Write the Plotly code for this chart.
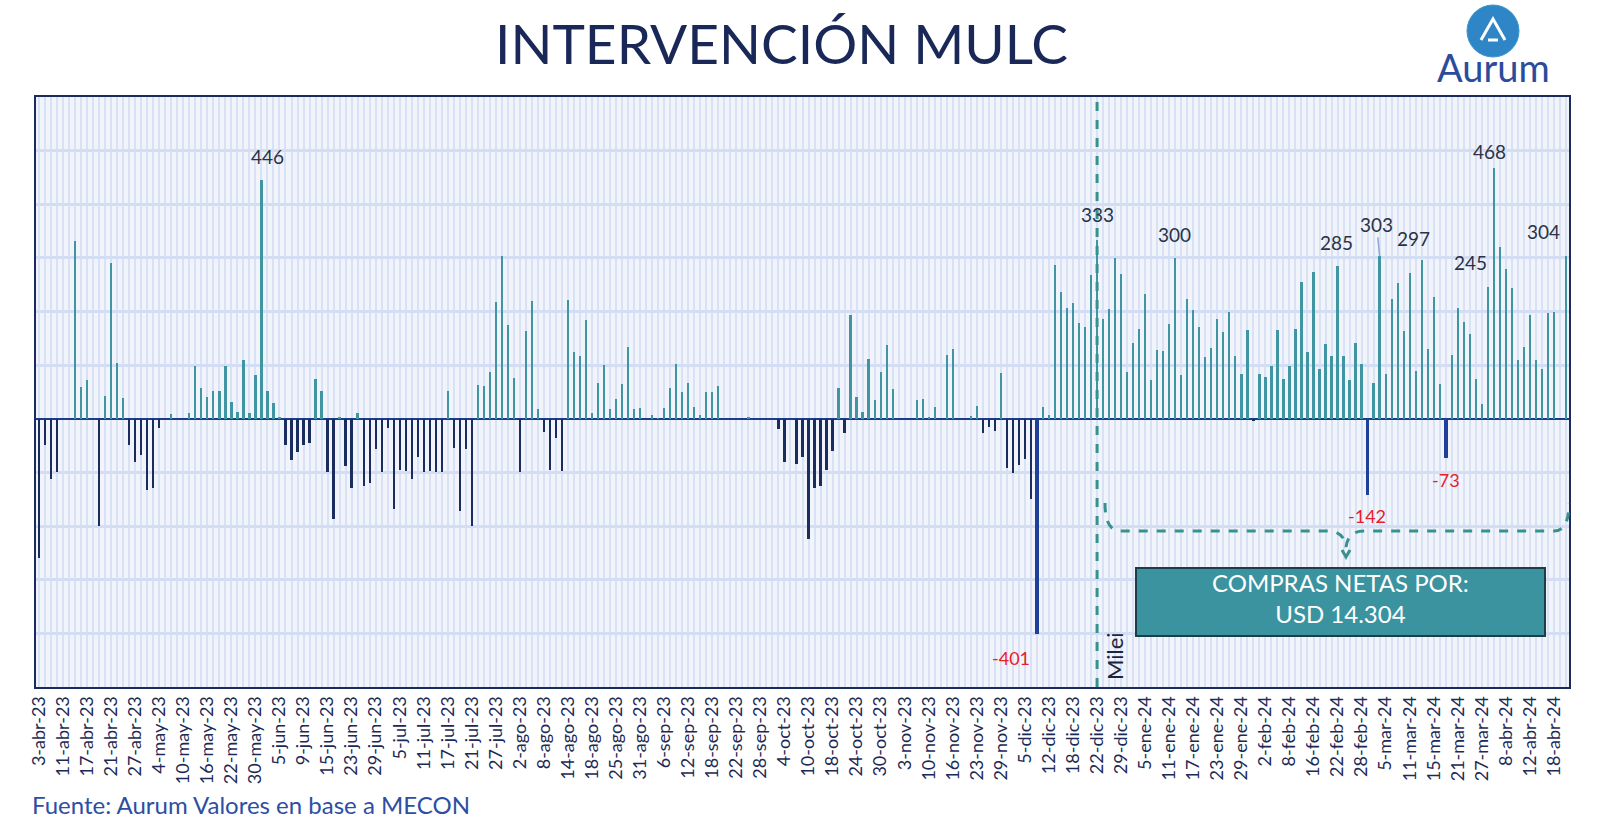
import pandas as pd
import plotly.graph_objects as go

# ---------------- data ----------------
HOLIDAYS = ["2023-04-06", "2023-04-07", "2023-05-01", "2023-05-25", "2023-05-26",
            "2023-06-19", "2023-06-20", "2023-08-21", "2023-10-12", "2023-10-13",
            "2023-11-09", "2023-11-20", "2023-12-08", "2023-12-25", "2024-01-01",
            "2024-02-12", "2024-02-13", "2024-03-28", "2024-03-29", "2024-04-01",
            "2024-04-02"]

VALUES = [
    -260, -49, -113, -99, 0, 0, 332, 59, 73, 0,
    -200, 43, 290, 105, 39, -49, -81, -67, -133, -129,
    -18, 0, 9, 0, 0, 11, 99, 58, 41, 51,
    51, 99, 31, 12, 110, 11, 82, 446, 52, 29,
    4, -49, -77, -62, -49, -46, 74, 51, -99, -186,
    4, -88, -129, 11, -125, -120, -57, -99, -17, -168,
    -96, -97, -112, -72, -99, -97, -99, -99, 52, -55,
    -171, -57, -200, 63, 62, 87, 217, 303, 175, 76,
    -100, 164, 219, 19, -24, -95, -35, -98, 221, 125,
    117, 184, 11, 66, 100, 19, 37, 64, 133, 19,
    21, 0, 7, 1, 21, 57, 103, 50, 67, 22,
    8, 50, 50, 61, 0, 0, 0, 0, 3, 0,
    0, 0, 0, -19, -80, 0, -84, -71, -224, -129,
    -126, -96, -60, 57, -27, 193, 40, 12, 111, 35,
    88, 137, 56, 0, 0, 0, 35, 37, 4, 22,
    0, 119, 130, 0, 0, 6, 24, -27, -16, -22,
    86, -91, -101, -86, -75, -150, -401, 22, 8, 287,
    236, 206, 216, 179, 171, 268, 333, 186, 204, 299,
    270, 88, 142, 168, 232, 73, 128, 126, 176, 300,
    81, 223, 202, 172, 115, 132, 187, 162, 199, 117,
    84, 166, -4, 84, 78, 98, 166, 75, 98, 168,
    256, 125, 274, 92, 140, 118, 285, 118, 72, 141,
    103, -142, 66, 303, 83, 224, 253, 164, 272, 89,
    297, 131, 228, 65, -73, 119, 206, 180, 158, 75,
    27, 245, 468, 321, 280, 243, 109, 133, 193, 110,
    92, 197, 199, 0, 304,
]

TICK_LABELS = [
    "3-abr-23", "11-abr-23", "17-abr-23", "21-abr-23", "27-abr-23", "4-may-23",
    "10-may-23", "16-may-23", "22-may-23", "30-may-23", "5-jun-23", "9-jun-23",
    "15-jun-23", "23-jun-23", "29-jun-23", "5-jul-23", "11-jul-23", "17-jul-23",
    "21-jul-23", "27-jul-23", "2-ago-23", "8-ago-23", "14-ago-23", "18-ago-23",
    "25-ago-23", "31-ago-23", "6-sep-23", "12-sep-23", "18-sep-23", "22-sep-23",
    "28-sep-23", "4-oct-23", "10-oct-23", "18-oct-23", "24-oct-23", "30-oct-23",
    "3-nov-23", "10-nov-23", "16-nov-23", "23-nov-23", "29-nov-23", "5-dic-23",
    "12-dic-23", "18-dic-23", "22-dic-23", "29-dic-23", "5-ene-24", "11-ene-24",
    "17-ene-24", "23-ene-24", "29-ene-24", "2-feb-24", "8-feb-24", "16-feb-24",
    "22-feb-24", "28-feb-24", "5-mar-24", "11-mar-24", "15-mar-24", "21-mar-24",
    "27-mar-24", "8-abr-24", "12-abr-24", "18-abr-24",
]

MILEI_DATE = "2023-12-22"
# labelled bars (by position in the series)
LABEL_IDX = [37, 176, 189, 216, 223, 230, 241, 242, 254, 166, 221, 234]
HIGHLIGHT_IDX = [166, 221, 234]
BOX_TEXT = "COMPRAS NETAS POR:<br>USD 14.304"

DATES = [d.strftime("%Y-%m-%d") for d in pd.bdate_range("2023-04-03", "2024-04-30")
         if d.strftime("%Y-%m-%d") not in HOLIDAYS][:len(VALUES)]

# ---------------- style ----------------
FONT = "Lato"
POS_C = "#4095a2"
NEG_C = "#1b2c5e"
HI_C = "#1f3f98"
NAVY = "#1b2b5b"
TEAL = "#36918f"

colors, widths = [], []
for i, v in enumerate(VALUES):
    if i in HIGHLIGHT_IDX:
        colors.append(HI_C); widths.append(0.62)
    elif v >= 0:
        colors.append(POS_C); widths.append(0.38)
    else:
        colors.append(NEG_C); widths.append(0.38)

ticktext = []
for i in range(len(DATES)):
    ticktext.append(TICK_LABELS[i // 4] if i % 4 == 0 and i // 4 < len(TICK_LABELS) else "")

fig = go.Figure(go.Bar(x=DATES, y=VALUES, marker=dict(color=colors, line=dict(width=0)),
                       width=widths, hoverinfo="x+y"))

L, R, T, B = 36, 1569, 97, 687
W, H = R - L, B - T


def px(x):
    return (x - L) / W


def py(y):
    return (B - y) / H


def P(x, y):
    return f"{px(x):.5f},{py(y):.5f}"


# label offsets (xshift, yshift)
OFFS = {37: (6, 10), 176: (0, 12), 189: (-1, 10), 216: (-1, 10), 230: (-8, 8),
        241: (-17, 11), 242: (-4, 3), 254: (-22, 11),
        166: (-26, -11), 221: (-1, -8), 234: (0, -9)}

annotations = []
for i in LABEL_IDX:
    v = VALUES[i]
    if i == 223:
        annotations.append(dict(x=DATES[i], y=v, xref="x", yref="y", text=str(v),
                                showarrow=True, arrowhead=0, arrowwidth=1.5,
                                arrowcolor="#8fa6d0", ax=-3, ay=-32, standoff=0,
                                font=dict(family=FONT, size=19, color="#2a3248")))
        continue
    dx, dy = OFFS[i]
    neg = v < 0
    annotations.append(dict(x=DATES[i], y=v, xref="x", yref="y", text=str(v),
                            showarrow=False, xshift=dx, yshift=dy,
                            yanchor="top" if neg else "bottom",
                            font=dict(family=FONT, size=18 if neg else 19,
                                      color="#e8202a" if neg else "#2a3248")))

# title, logo text, footer, Milei, box text
annotations += [
    dict(x=px(781), y=py(43), xref="paper", yref="paper", text="INTERVENCIÓN MULC",
         showarrow=False, xanchor="center", yanchor="middle",
         font=dict(family=FONT, size=55, color="#1a2858")),
    dict(x=px(1493), y=py(67), xref="paper", yref="paper", text="Aurum",
         showarrow=False, xanchor="center", yanchor="middle",
         font=dict(family=FONT, size=38, color="#2b4c9c")),
    dict(x=px(30), y=py(804), xref="paper", yref="paper",
         text="Fuente: Aurum Valores en base a MECON", showarrow=False,
         xanchor="left", yanchor="middle",
         font=dict(family=FONT, size=24, color="#2d4ea3")),
    dict(x=px(1114), y=py(656), xref="paper", yref="paper", text="Milei",
         showarrow=False, textangle=-90, xanchor="center", yanchor="middle",
         font=dict(family=FONT, size=22, color="#1c2540")),
    dict(x=px(1340.5), y=py(598), xref="paper", yref="paper", text=BOX_TEXT,
         showarrow=False, xanchor="center", yanchor="middle",
         font=dict(family=FONT, size=24, color="white")),
]

brace = (f"M {P(1105,503)} Q {P(1105,531)} {P(1120,531)} L {P(1328,531)} "
         f"Q {P(1344,531)} {P(1346,547)} Q {P(1348,531)} {P(1364,531)} "
         f"L {P(1554,531)} Q {P(1569,531)} {P(1569,503)}")
tip = f"M {P(1342,550)} L {P(1346,557)} L {P(1350,550)}"

shapes = [
    dict(type="line", xref="x", yref="paper", x0=MILEI_DATE, x1=MILEI_DATE, y0=0, y1=1,
         line=dict(color=TEAL, width=3, dash="dash"), layer="above"),
    dict(type="path", xref="paper", yref="paper", path=brace,
         line=dict(color=TEAL, width=3, dash="dash"), layer="above"),
    dict(type="path", xref="paper", yref="paper", path=tip,
         line=dict(color=TEAL, width=3), layer="above"),
    dict(type="rect", xref="paper", yref="paper", x0=px(1136), x1=px(1545),
         y0=py(636), y1=py(568), fillcolor="#3a939f",
         line=dict(color="#1d3d48", width=2), layer="above"),
    # logo circle
    dict(type="circle", xref="paper", yref="paper", xsizemode="pixel", ysizemode="pixel",
         xanchor=px(1493), yanchor=py(31), x0=-26, x1=26, y0=-26, y1=26,
         fillcolor="#2f86c6", line=dict(color="#3a97c9", width=1), layer="above"),
    dict(type="path", xref="paper", yref="paper", xsizemode="pixel", ysizemode="pixel",
         xanchor=px(1493), yanchor=py(31), path="M -12,-9 L 0,12 L 12,-9 M -5,-9 L 5,-9",
         line=dict(color="white", width=3), layer="above"),
]

fig.update_layout(
    width=1600, height=832, autosize=False,
    margin=dict(l=L, r=1600 - R, t=T, b=832 - B, pad=0),
    paper_bgcolor="white", plot_bgcolor="#f1f4fb",
    showlegend=False, bargap=0,
    font=dict(family=FONT),
    annotations=annotations, shapes=shapes,
    xaxis=dict(type="category", range=[-0.5, len(DATES) - 0.5],
               tickmode="array", tickvals=DATES, ticktext=ticktext, tickangle=-90,
               ticks="", showgrid=True, gridcolor="#d9e2f4", gridwidth=2,
               showline=True, mirror=True, linecolor=NAVY, linewidth=2,
               tickfont=dict(family=FONT, size=18, color="#1d2a55")),
    yaxis=dict(range=[-500, 600], dtick=100, tick0=0, showticklabels=False,
               showgrid=True, gridcolor="#d3def5", gridwidth=3,
               zeroline=True, zerolinecolor="#1f3c8a", zerolinewidth=2,
               showline=True, mirror=True, linecolor=NAVY, linewidth=2),
)

fig.write_html("out.html")
